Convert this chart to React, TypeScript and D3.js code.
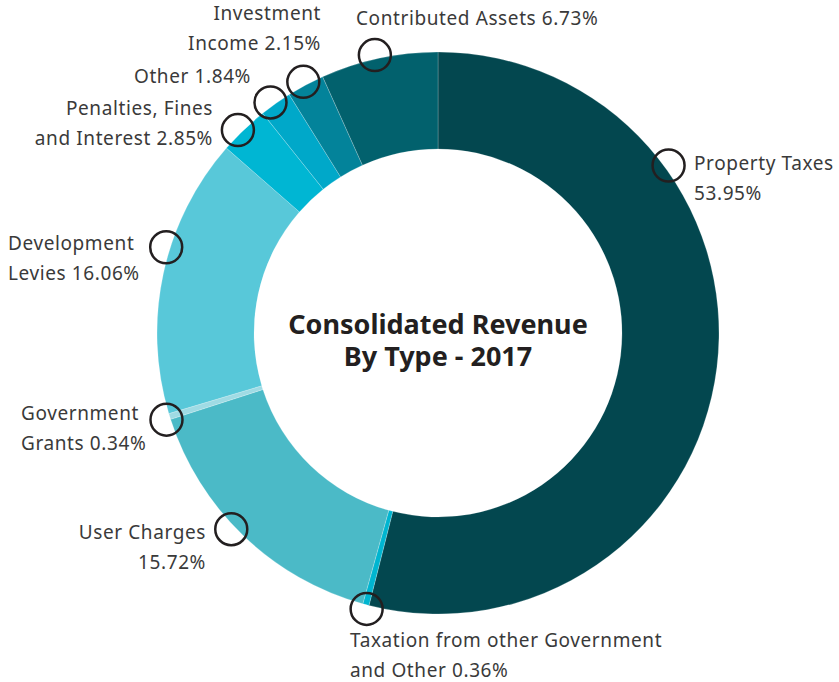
import { useRef, useEffect } from 'react';
import * as d3 from 'd3';

// slices clockwise from 12 o'clock
const categories = [
    'Property Taxes',
    'Taxation from other Government and Other',
    'User Charges',
    'Government Grants',
    'Development Levies',
    'Penalties, Fines and Interest',
    'Other',
    'Investment Income',
    'Contributed Assets',
];
const values = [53.95, 0.36, 15.72, 0.34, 16.06, 2.85, 1.84, 2.15, 6.73];
const colors = ['#03474f', '#00b5d0', '#4bbac7', '#9fdbe4', '#58c8d9', '#00b6d3', '#00a8c9', '#03839a', '#02616d'];

// label lines as printed
const labelLines = [
    ['Property Taxes', '53.95%'],
    ['Taxation from other Government', 'and Other 0.36%'],
    ['User Charges', '15.72%'],
    ['Government', 'Grants 0.34%'],
    ['Development', 'Levies 16.06%'],
    ['Penalties, Fines', 'and Interest 2.85%'],
    ['Other 1.84%'],
    ['Investment', 'Income 2.15%'],
    ['Contributed Assets 6.73%'],
];
const titleLines = ['Consolidated Revenue', 'By Type - 2017'];

// callout ring angle (deg, clockwise from top) and label placement
const calloutAngles = [54, 194.5, 226.5, 252.3, 287.5, 315.4, 324, 331.8, 347.2];
const labelPos: [number, number, string][] = [
    [694, 170, 'start'],
    [350, 647, 'start'],
    [206, 539, 'end'],
    [21, 420, 'start'],
    [8, 250, 'start'],
    [213, 115, 'end'],
    [251, 83, 'end'],
    [321, 20, 'end'],
    [356, 25, 'start'],
];

export default function App() {
    const ref = useRef<SVGSVGElement>(null);

    useEffect(() => {
        if (!ref.current) return;
        const svg = d3.select(ref.current);
        svg.selectAll('*').remove();

        const width = 839;
        const height = 682;
        const cx = 438;
        const cy = 333;
        const outer = 281;
        const inner = 184;

        svg.attr('width', width).attr('height', height);

        const data = categories.map((c, i) => ({ name: c, value: values[i], color: colors[i] }));

        const pie = d3.pie<any>().value(d => d.value).sort(null);
        const arc = d3.arc<any>().innerRadius(inner).outerRadius(outer);

        const g = svg.append('g').attr('transform', `translate(${cx},${cy})`);

        g.selectAll('path')
            .data(pie(data))
            .enter()
            .append('path')
            .attr('d', arc)
            .attr('fill', d => d.data.color)
            .attr('stroke', 'rgba(255,255,255,0.35)')
            .attr('stroke-width', 0.6);

        // callout rings
        const ringR = 285;
        g.selectAll('circle.ring')
            .data(calloutAngles)
            .enter()
            .append('circle')
            .attr('class', 'ring')
            .attr('cx', a => ringR * Math.sin((a * Math.PI) / 180))
            .attr('cy', a => -ringR * Math.cos((a * Math.PI) / 180))
            .attr('r', 16)
            .attr('fill', 'none')
            .attr('stroke', '#231f20')
            .attr('stroke-width', 2.5);

        // labels
        labelLines.forEach((lines, i) => {
            const [x, y, anchor] = labelPos[i];
            const t = svg.append('text')
                .attr('x', x)
                .attr('y', y)
                .attr('text-anchor', anchor)
                .attr('fill', '#3a3a3a')
                .attr('font-family', '"Noto Sans", sans-serif')
                .attr('font-size', '19px')
                .attr('letter-spacing', '0.6px');
            lines.forEach((line, j) => {
                t.append('tspan').attr('x', x).attr('dy', j === 0 ? 0 : 29.5).text(line);
            });
        });

        // centre title
        titleLines.forEach((line, i) => {
            svg.append('text')
                .attr('x', cx)
                .attr('y', 334 + i * 32)
                .attr('text-anchor', 'middle')
                .attr('fill', '#231f20')
                .attr('font-family', '"Noto Sans", sans-serif')
                .attr('font-weight', 'bold')
                .attr('font-size', '27px')
                .text(line);
        });
    }, []);

    return (
        <svg ref={ref} style={{ position: 'absolute', left: 0, top: 0 }}></svg>
    );
}
